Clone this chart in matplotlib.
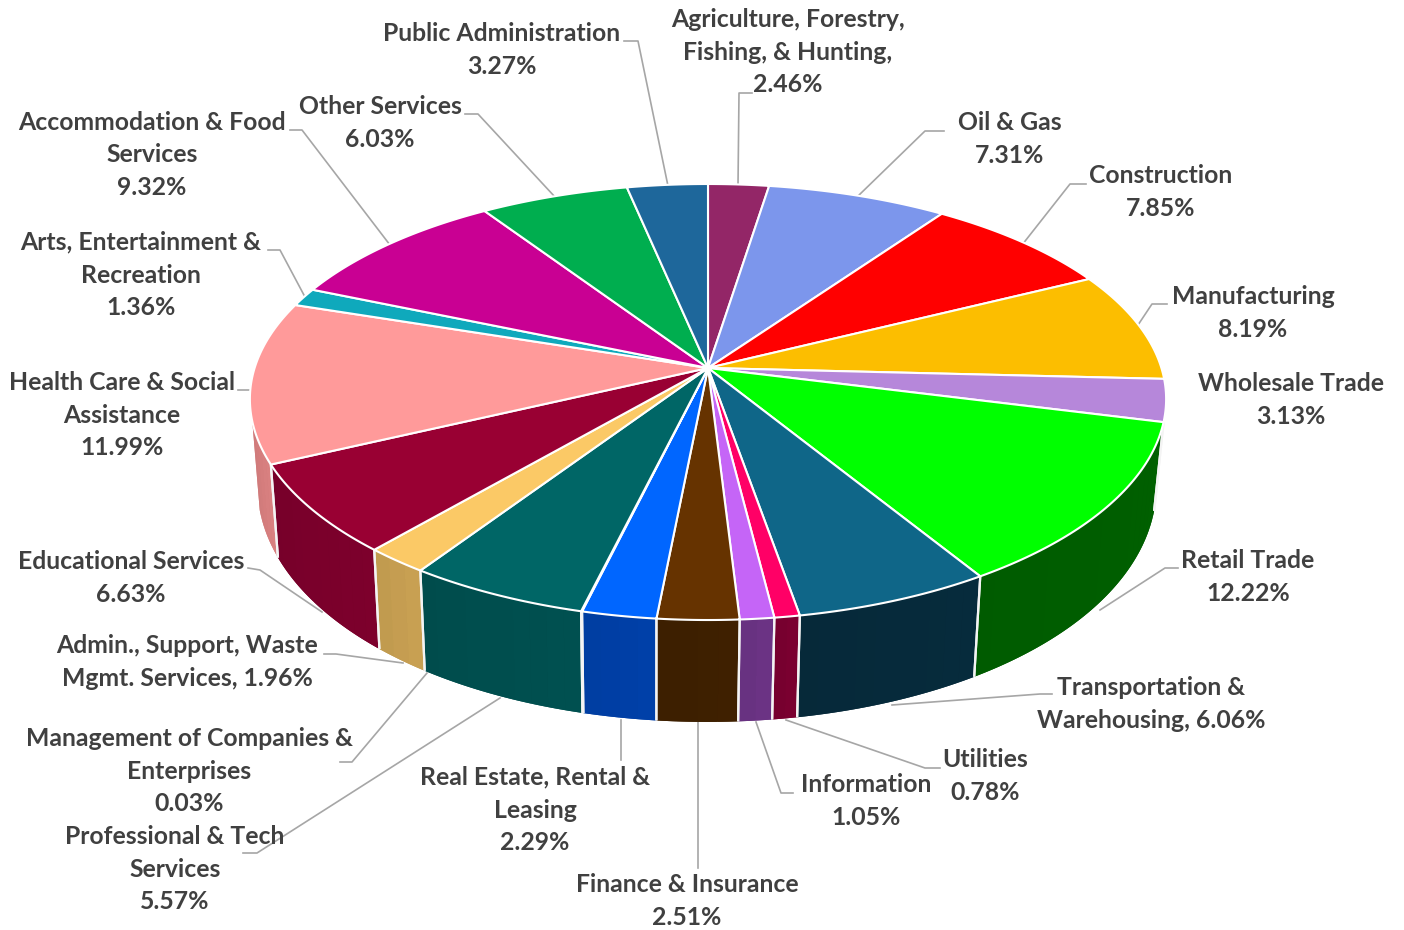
#!/usr/bin/env python3

import matplotlib
matplotlib.use('Agg')
import matplotlib.pyplot as plt
import numpy as np

# slices, clockwise from 12 o'clock
names = ['Agriculture, Forestry,\nFishing, & Hunting', 'Oil & Gas', 'Construction',
         'Manufacturing', 'Wholesale Trade', 'Retail Trade', 'Transportation &\nWarehousing',
         'Utilities', 'Information', 'Finance & Insurance', 'Real Estate, Rental &\nLeasing',
         'Management of Companies &\nEnterprises', 'Professional & Tech\nServices',
         'Admin., Support, Waste\nMgmt. Services', 'Educational Services',
         'Health Care & Social\nAssistance', 'Arts, Entertainment &\nRecreation',
         'Accommodation & Food\nServices', 'Other Services', 'Public Administration']
values = [2.46, 7.31, 7.85, 8.19, 3.13, 12.22, 6.06, 0.78, 1.05, 2.51,
          2.29, 0.03, 5.57, 1.96, 6.63, 11.99, 1.36, 9.32, 6.03, 3.27]
seps = [',\n', '\n', '\n', '\n', '\n', '\n', ', ', '\n', '\n', '\n',
        '\n', '\n', '\n', ', ', '\n', '\n', '\n', '\n', '\n', '\n']

top_colors = ['#932667', '#7c96ec', '#ff0000', '#fcbe00', '#b687da', '#00ff00', '#0f6688',
              '#ff0066', '#c565f7', '#663300', '#0066ff', '#006666', '#006666', '#fbc966',
              '#990033', '#ff9a9a', '#0fa9bc', '#c90093', '#00ae4f', '#1e679b']
wall_colors = ['#6b1c4b', '#5a6dac', '#ba0000', '#b88a00', '#85629f', '#006000', '#062b3c',
               '#7a0030', '#6b3384', '#3f2000', '#0040a8', '#004f4f', '#005050', '#c8a052',
               '#7d002c', '#d98080', '#0b7b89', '#92006b', '#007f39', '#164b71']

# label centres and leader lines, in image pixels
label_xy = [(788, 52), (1010, 139), (1161, 192), (1253, 313), (1291, 400), (1248, 577),
            (1151, 704), (985, 776), (866, 801), (687, 901), (535, 810), (189, 771),
            (175, 869), (187, 662), (131, 578), (122, 415), (141, 275), (152, 155),
            (380, 123), (502, 50)]
leaders = [[(752, 93), (739, 93), (738, 186)],
           [(944, 131), (925, 131), (857, 197)],
           [(1086, 184), (1070, 184), (1022, 245)],
           [(1167, 304), (1152, 304), (1138, 325)],
           [],
           [(1178, 568), (1165, 568), (1100, 610)],
           [(1052, 694), (1040, 694), (892, 705)],
           [(940, 768), (925, 768), (786, 720)],
           [(793, 793), (781, 793), (756, 722)],
           [(698, 868), (698, 722)],
           [(621, 760), (621, 720)],
           [(340, 762), (352, 762), (427, 673)],
           [(243, 853), (257, 853), (500, 698)],
           [(324, 654), (336, 654), (403, 663)],
           [(248, 568), (260, 570), (322, 612)],
           [(238, 390), (250, 390)],
           [(268, 250), (280, 250), (305, 297)],
           [(290, 130), (302, 130), (390, 245)],
           [(465, 114), (478, 114), (555, 197)],
           [(624, 41), (638, 41), (668, 186)]]

# perspective of the disc: apex, half axes, foreshortening in x and y
KX = 0.143
TOP = (708.0, 368.0, 453.4, 212.7, 0.156)
BOT = (707.0, 450.0, 445.0, 242.0, 0.11)
WALL_FROM = 104.0
WALL_TO = 256.0


def rim(angle, face):
  # angle in degrees clockwise from 12 o'clock
  cx, cy, a, b, ky = face
  t = np.radians(angle)
  c = np.cos(t)
  return cx + a * np.sin(t) / (1 + KX * c), cy - b * c / (1 + ky * c)


def main():
  fig = plt.figure(figsize=(14.04, 9.30), dpi=100)
  ax = fig.add_axes([0, 0, 1, 1])
  ax.set_xlim(0, 1404)
  ax.set_ylim(930, 0)
  ax.axis('off')

  for pts in leaders:
    if pts:
      xs, ys = zip(*pts)
      ax.plot(xs, ys, color='#a6a6a6', lw=1.2, zorder=1)

  edges = np.concatenate([[0], np.cumsum(values)]) * 360.0 / sum(values)

  # side walls, with a slight shading across each slice
  for i in range(len(values)):
    lo = max(edges[i], WALL_FROM)
    hi = min(edges[i + 1], WALL_TO)
    if hi <= lo:
      continue
    base = np.array(matplotlib.colors.to_rgb(wall_colors[i]))

    # solid underlay so the bands leave no seams
    th = np.linspace(lo, hi, 60)
    xt, yt = rim(th, TOP)
    xb, yb = rim(th[::-1], BOT)
    ax.fill(np.r_[xt, xb], np.r_[yt, yb], color=base * 0.98, lw=0, zorder=2)

    steps = np.linspace(lo, hi, max(2, int((hi - lo) / 2)) + 1)
    for j in range(len(steps) - 1):
      th = np.linspace(steps[j], steps[j + 1], 6)
      xt, yt = rim(th, TOP)
      xb, yb = rim(th[::-1], BOT)
      shade = base * (1.0 - 0.05 * (j / (len(steps) - 1)))
      ax.fill(np.r_[xt, xb], np.r_[yt, yb], color=shade, lw=0, zorder=2)

    for ang in (lo, hi):
      if WALL_FROM < ang < WALL_TO:
        xt, yt = rim(ang, TOP)
        xb, yb = rim(ang, BOT)
        ax.plot([xt, xb], [yt, yb], color='#f4f4f4', lw=1.6, zorder=3,
                solid_capstyle='butt')

  # top face
  for i in range(len(values)):
    th = np.linspace(edges[i], edges[i + 1], 60)
    x, y = rim(th, TOP)
    ax.fill(np.r_[TOP[0], x], np.r_[TOP[1], y], facecolor=top_colors[i],
            edgecolor='white', lw=1.5, joinstyle='round', zorder=4)

  for name, value, sep, (x, y) in zip(names, values, seps, label_xy):
    ax.text(x, y, '{0}{1}{2:.2f}%'.format(name, sep, value), ha='center', va='center',
            multialignment='center', family='Lato', weight='bold', fontsize=17.8,
            color='#404040', linespacing=1.52, zorder=5)

  fig.savefig('out.png', dpi=100)


if __name__ == '__main__':
  main()
